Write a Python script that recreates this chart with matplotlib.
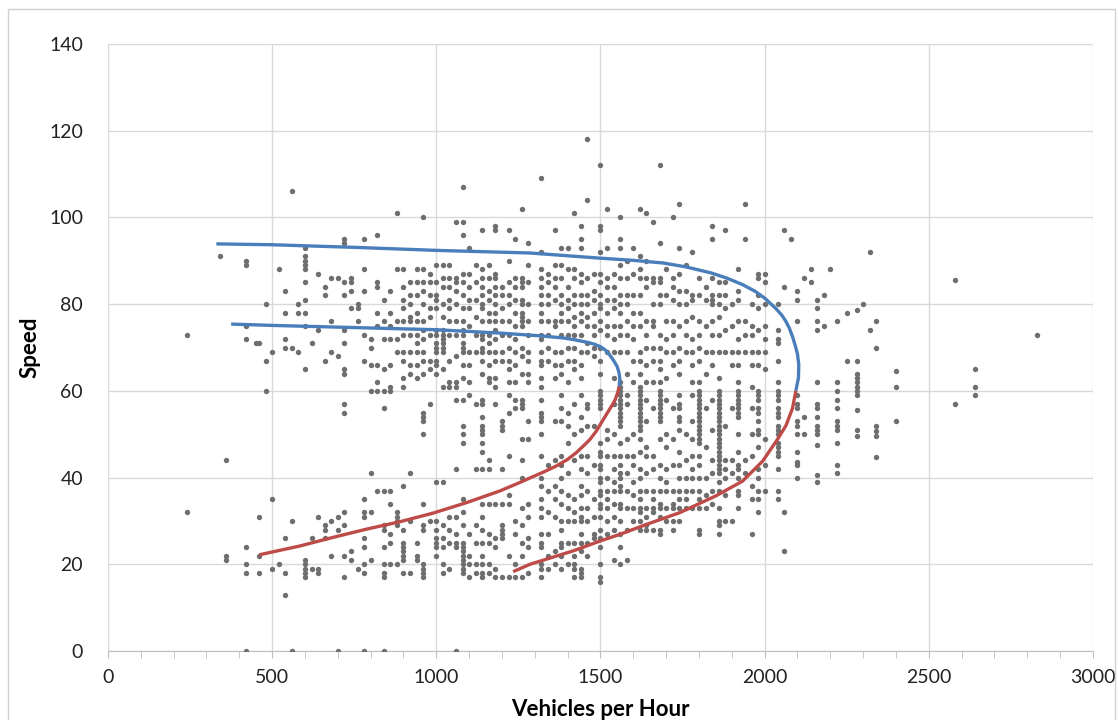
import matplotlib
matplotlib.use("Agg")
import matplotlib.pyplot as plt
from matplotlib.patches import Rectangle
from matplotlib.ticker import MultipleLocator

plt.rcParams['font.family'] = ['Lato', 'DejaVu Sans']

# observed points, one entry per flow value: (vehicles per hour, [speeds])
left_cols = [
    (240, [73, 32]), (340, [91]), (360, [44, 22, 21]),
    (420, [90, 89, 75, 72, 24, 20, 18, 0]), (450, [71]), (460, [71, 31, 22, 18]),
    (480, [80, 67, 60]), (500, [69, 35, 19]), (520, [88, 20]),
    (540, [83, 78, 72, 70, 26, 18, 13]), (560, [106, 70, 30, 0]), (580, [80, 78, 69]),
    (600, [93, 91, 90, 89, 88, 85, 81, 78, 75, 65, 21, 20, 19, 18, 17]),
    (620, [71, 26, 19]), (640, [87, 74, 31, 19, 18]), (660, [84, 82, 67, 29, 28, 26]),
    (680, [86, 76, 69, 30, 22]), (700, [86, 68, 31, 28, 0]),
    (720, [95, 94, 85, 82, 74, 71, 65, 64, 57, 55, 32, 29, 22, 17]),
    (740, [86, 85, 83, 79, 23, 21]), (760, [80, 79, 76, 19]),
    (780, [95, 88, 83, 73, 67, 35, 32, 31, 26, 24, 20, 18, 0]),
    (800, [72, 70, 66, 60, 41, 32, 21]),
    (820, [96, 85, 84, 78, 75, 66, 62, 60, 37]),
    (840, [81, 76, 72, 65, 60, 56, 37, 29, 28, 24, 20, 18, 17, 0]),
    (860, [83, 78, 75, 72, 66, 61, 60, 37, 34, 27, 25, 20]),
    (880, [101, 88, 76, 72, 69, 32, 31, 30, 29, 20]),
]

mid_cols = [
    (900, [88, 84, 81, 79, 76, 73, 69, 67, 63, 61, 38, 28, 25, 24, 23, 22, 21, 18]),
    (920, [85, 82, 80, 77, 76, 73, 69, 66, 64, 41, 30, 18]),
    (940, [88, 85, 82, 78, 76, 73, 71, 69, 66, 63, 25, 22, 21]),
    (960, [100, 88, 85, 83, 80, 76, 74, 72, 69, 67, 64, 55, 54, 53, 50, 34, 29, 28, 20, 19, 18, 17]),
    (980, [87, 85, 82, 79, 77, 73, 67, 65, 57, 30]),
    (1000, [89, 85, 82, 81, 79, 74, 73, 71, 70, 69, 67, 66, 64, 39, 30, 28, 26, 25, 24, 22]),
    (1020, [89, 86, 84, 80, 77, 74, 73, 72, 71, 70, 69, 65, 61, 39, 29, 26, 24, 20, 18]),
    (1040, [89, 86, 84, 81, 79, 76, 73, 67, 62, 61, 31, 28, 25, 19]),
    (1060, [99, 86, 85, 83, 80, 76, 73, 68, 62, 61, 58, 42, 31, 27, 25, 24, 0]),
    (1080, [107, 99, 96, 87, 85, 82, 79, 76, 74, 73, 71, 70, 69, 66, 63, 58,
            52, 50, 48, 35, 32, 29, 25, 24, 23, 22, 21, 20, 19, 18]),
    (1100, [93, 87, 84, 81, 79, 75, 69, 66, 62, 59, 27, 22, 20, 17]),
    (1120, [89, 85, 81, 77, 73, 69, 57, 42, 29, 25, 20, 18]),
    (1140, [97, 88, 86, 84, 82, 80, 79, 76, 73, 72, 70, 69, 67, 64, 58, 57,
            54, 52, 51, 50, 48, 46, 42, 34, 31, 28, 25, 22, 20, 18, 17]),
    (1160, [89, 86, 83, 81, 78, 76, 73, 71, 69, 66, 63, 62, 44, 42, 34, 27, 25, 20, 18]),
    (1180, [98, 97, 87, 86, 84, 82, 80, 78, 76, 74, 72, 69, 67, 63, 61, 57, 34, 26, 24, 19, 17]),
    (1200, [84, 82, 79, 76, 73, 69, 67, 53, 52, 51, 42, 34, 29, 28, 27, 26, 17]),
    (1220, [97, 90, 85, 82, 80, 76, 73, 70, 67, 65, 62, 59, 55, 45, 36, 34, 22, 17]),
    (1240, [95, 86, 84, 81, 78, 75, 72, 69, 66, 62, 58, 56, 30, 27, 20, 17]),
    (1260, [102, 86, 85, 84, 81, 80, 78, 77, 76, 75, 70, 68, 64, 58, 57, 56,
            49, 44, 40, 33, 29, 25, 22, 17]),
    (1280, [94, 89, 85, 80, 76, 73, 69, 67, 64, 62, 53, 49, 34, 31, 26, 24, 18]),
    (1320, [109, 92, 88, 86, 84, 82, 80, 78, 76, 73, 72, 69, 67, 66, 63, 61,
            58, 55, 54, 53, 50, 45, 40, 38, 35, 33, 31, 27, 25, 24, 20, 19, 17]),
    (1340, [87, 85, 82, 80, 76, 73, 70, 67, 43, 37, 32, 27, 22, 19]),
    (1360, [97, 89, 86, 84, 81, 76, 75, 69, 66, 63, 53, 44, 38, 35, 31, 23, 20]),
    (1380, [93, 89, 86, 82, 80, 78, 76, 73, 69, 66, 64,
            59, 56, 53, 45, 43, 40, 37, 34, 30, 28, 25, 24, 22, 19]),
    (1400, [93, 88, 84, 81, 79, 76, 73, 70, 67, 62, 55, 52, 48, 41, 36, 33, 30, 25, 20]),
    (1420, [101, 88, 86, 82, 80, 77, 75, 73, 70, 67, 65,
            57, 50, 44, 35, 32, 30, 25, 22, 20, 19, 17]),
    (1440, [98, 95, 93, 87, 85, 82, 80, 78, 76, 73, 69, 66, 63,
            59, 54, 51, 45, 42, 38, 36, 33, 31, 30, 27, 25, 23, 19, 18, 17]),
    (1460, [118, 104, 86, 82, 80, 77, 75, 71, 69, 57, 56, 52, 45, 41, 37, 33, 30, 25, 22]),
    (1480, [87, 83, 81, 78, 75, 73, 70, 68, 52, 43, 35, 31, 27, 26]),
    (1500, [112, 98, 97, 92, 87, 85, 82, 80, 79, 76, 74, 70, 67, 64,
            60, 59, 58, 57, 56, 48, 46, 45, 43, 42, 40, 39, 37, 36, 34, 33, 31, 28, 26, 24, 20, 17, 16]),
    (1520, [102, 93, 86, 84, 81, 78, 75, 73, 69, 51, 49, 45, 40, 37, 35, 33, 30, 27]),
    (1540, [87, 84, 81, 79, 75, 72, 69, 63, 57, 50, 45, 42, 39, 37, 34, 31, 28, 21]),
    (1560, [100, 95, 93, 89, 86, 82, 80, 78, 75, 73, 69, 62, 61,
            60, 59, 58, 57, 56, 55, 54, 53, 52, 48, 45, 43, 41, 40, 38, 37, 34, 33, 30, 27, 24, 20]),
    (1580, [90, 86, 82, 80, 76, 73, 69, 64, 59, 57, 49, 45, 41, 37, 33, 28, 21]),
    (1600, [93, 87, 82, 78, 75, 72, 67, 62, 50, 45, 43, 39, 36, 33, 30]),
    (1620, [102, 91, 88, 86, 82, 78, 75, 69, 67, 64, 61,
            60, 59, 58, 57, 56, 55, 54, 53, 52, 51, 49, 46, 42, 40, 37, 35, 33, 32, 30, 28]),
    (1640, [101, 90, 86, 84, 76, 73, 70, 66, 62, 58, 53, 47, 45, 41, 37, 33, 31, 29, 28]),
    (1660, [99, 86, 85, 80, 76, 75, 70, 67, 62, 56, 45, 42, 37, 35, 33, 32, 28]),
    (1680, [112, 94, 86, 85, 82, 80, 73, 70, 67, 65, 62,
            60, 59, 58, 57, 56, 55, 54, 53, 49, 43, 40, 37, 34, 33, 31, 28, 27]),
    (1700, [88, 82, 76, 72, 69, 63, 58, 50, 47, 42, 39, 37, 33, 30]),
    (1720, [100, 86, 84, 81, 76, 73, 69, 66, 56, 49, 43, 37, 34, 33, 30, 28]),
    (1740, [103, 93, 87, 83, 80, 75, 70, 67, 64, 59, 57, 56, 54, 53, 51, 46, 43, 40, 37, 35, 33, 30]),
    (1760, [89, 83, 80, 76, 73, 69, 50, 44, 40, 37, 35, 33]),
    (1780, [92, 82, 81, 77, 72, 69, 66, 62, 59, 53, 49, 45, 42, 40, 37, 33]),
    (1800, [86, 82, 76, 73, 70, 67, 62, 60, 59, 58, 57, 56, 55, 54, 53, 52, 51, 50, 49, 48,
            45, 43, 40, 37, 35, 33, 28, 27]),
    (1820, [84, 81, 75, 69, 64, 56, 47, 40, 36, 33]),
    (1840, [98, 95, 86, 82, 81, 80, 76, 73, 69, 66, 58, 51, 44, 41, 37, 34]),
    (1860, [85, 82, 80, 77, 73, 69, 63, 60, 59, 58, 57, 56, 55, 54, 53, 52, 51, 50, 49, 48,
            47, 46, 45, 44, 43, 42, 41, 39, 37, 33, 30, 29, 27]),
    (1880, [97, 85, 82, 79, 74, 69, 52, 44, 42, 40, 36, 30]),
    (1900, [80, 75, 69, 66, 56, 44, 41, 30]),
    (1920, [88, 83, 81, 76, 72, 69, 66, 62, 60, 59, 58, 57, 56, 55, 54, 50, 46, 43, 42, 40, 37, 36, 33]),
    (1940, [103, 95, 76, 73, 69, 44, 41]),
    (1960, [80, 75, 73, 69, 66, 61, 56, 50, 45, 38, 35, 27]),
    (1980, [87, 86, 82, 79, 74, 69, 66, 60, 59, 58, 56, 55, 53, 51, 50, 47, 42, 40, 37, 35, 32]),
    (2000, [87, 85, 80, 75, 72, 69, 65, 49, 43, 37]),
    (2040, [80, 74, 72, 71, 67, 62, 60, 59, 58, 56, 55, 54, 52, 51, 50, 48, 47, 46, 45, 42, 37, 35]),
    (2060, [97, 84, 32, 23]),
    (2080, [95]),
]

right_cols = [
    (2100, [83, 81, 76, 59, 57, 56, 53, 52, 50, 46, 43.5, 43, 40]),
    (2120, [86, 54, 50]), (2140, [88, 85]),
    (2160, [81, 79, 76, 74, 62, 57, 56, 54, 52, 51, 50, 47.5, 40.6, 39]),
    (2180, [82, 75]), (2200, [88]),
    (2220, [76, 62, 60, 58, 56, 53, 52, 51, 48, 43, 41]),
    (2250, [78, 67]),
    (2280, [78.6, 67, 64, 63, 62, 61, 60, 59, 55.6, 51, 49.5]),
    (2300, [80]), (2320, [92, 74]),
    (2340, [76, 70, 52, 50.7, 49.5, 44.7]),
    (2400, [64.6, 61, 53]), (2580, [85.6, 57]), (2640, [65, 61, 59]), (2830, [73]),
]

# fitted speed-flow curves
outer_blue_q = [330, 500, 750, 1000, 1285, 1500, 1600, 1690, 1760, 1837, 1885, 1933, 1970,
                2000, 2034, 2052, 2065, 2075, 2085, 2093, 2100, 2104, 2103, 2095]
outer_blue_v = [93.9, 93.7, 93.1, 92.4, 91.8, 90.6, 90.1, 89.5, 88.6, 87.2, 86.0, 84.5, 83.0,
                81.4, 79.0, 77.5, 76.0, 74.5, 72.5, 70.5, 68.5, 66.0, 63.0, 60.0]
outer_red_q = [2095, 2085, 2065, 2039, 1994, 1933, 1852, 1741, 1640, 1559, 1500, 1417, 1285, 1234]
outer_red_v = [60, 56, 52, 48.8, 43.8, 39.2, 35.8, 31.9, 29.2, 26.9, 25.4, 23.1, 20, 18.3]
inner_blue_q = [375, 500, 1000, 1200, 1315, 1387, 1420, 1460, 1480, 1500, 1515, 1528, 1540, 1551, 1556, 1559, 1557]
inner_blue_v = [75.4, 75.1, 74.1, 73.3, 72.7, 72.2, 71.8, 71.2, 70.8, 70.2, 69.4, 68.3, 67.0, 65.6, 64.3, 62.9, 61]
inner_red_q = [1557, 1552, 1545, 1537, 1528, 1516, 1503, 1487, 1468, 1448, 1427, 1400, 1366,
               1330, 1294, 1243, 1193, 1091, 990, 888, 787, 685, 583, 461]
inner_red_v = [61, 59.5, 58, 56.9, 55.8, 54.3, 52.7, 50.7, 48.8, 47.3, 45.8, 44.2, 42.7,
               41.4, 40.2, 38.5, 36.9, 34.2, 31.8, 29.8, 28.1, 26.2, 24.2, 22.2]

BLUE = '#4a7ebb'
RED = '#be4b48'
GRID = '#d9d9d9'


def main():
    # flatten the columns into x / y lists
    flow = []
    speed = []
    for q, vs in left_cols + mid_cols + right_cols:
        for v in vs:
            flow.append(q)
            speed.append(v)

    fig = plt.figure(figsize=(11.18, 7.2), dpi=100)
    ax = fig.add_axes([0.0966, 0.0958, 0.881, 0.8431])

    # chart border like the spreadsheet chart area
    fig.patches.append(Rectangle((0.007, -0.02), 0.99, 1.008, transform=fig.transFigure,
                                 fill=False, edgecolor='#d0d0d0', linewidth=1))

    ax.scatter(flow, speed, s=15, color='#6e6e6e', linewidths=0, zorder=3)

    for q, v, c in [(outer_blue_q, outer_blue_v, BLUE), (inner_blue_q, inner_blue_v, BLUE),
                    (outer_red_q, outer_red_v, RED), (inner_red_q, inner_red_v, RED)]:
        ax.plot(q, v, color=c, lw=2.4, zorder=4, solid_capstyle='butt', solid_joinstyle='round')

    ax.set_xlim(0, 3000)
    ax.set_ylim(0, 140)
    ax.xaxis.set_major_locator(MultipleLocator(500))
    ax.xaxis.set_minor_locator(MultipleLocator(100))
    ax.yaxis.set_major_locator(MultipleLocator(20))

    ax.grid(True, which='major', color=GRID, lw=1)
    ax.set_axisbelow(True)
    for side in ['top', 'right', 'left']:
        ax.spines[side].set_visible(False)
    ax.spines['bottom'].set_color('#bfbfbf')

    ax.tick_params(axis='x', which='both', direction='out', length=5, color='#bfbfbf',
                   labelsize=14, labelcolor='#222222', pad=8)
    ax.tick_params(axis='y', length=0, labelsize=14, labelcolor='#222222', pad=18)

    ax.set_xlabel('Vehicles per Hour', fontsize=16, fontweight='bold', labelpad=9)
    ax.set_ylabel('Speed', fontsize=16, fontweight='bold', labelpad=6)

    fig.savefig('out.png', dpi=100)


if __name__ == "__main__":
    main()
